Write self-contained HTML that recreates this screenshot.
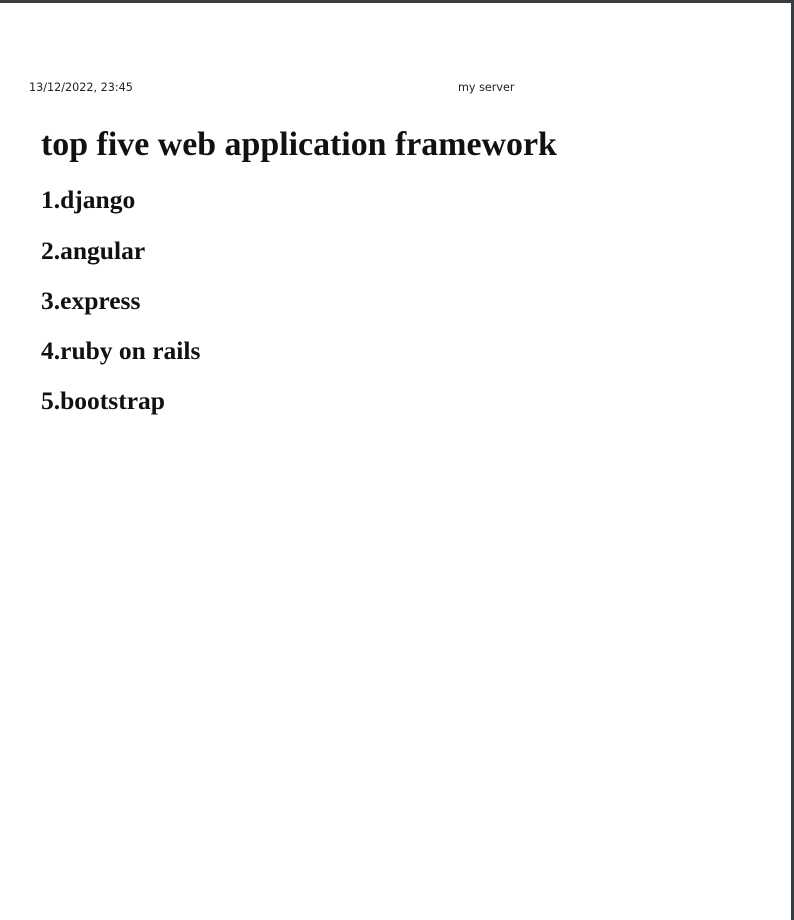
<!DOCTYPE html>
<html><head><meta charset="utf-8"><style>
html,body{margin:0;padding:0;background:#fff;}
body{width:794px;height:920px;position:relative;overflow:hidden;}
#topbar{position:absolute;left:0;top:0;width:794px;height:3px;background:#3a3d40;}
#rightbar{position:absolute;right:0;top:0;width:3px;height:920px;background:#3a3d40;}
.hdr{position:absolute;top:81px;font:11.2px "DejaVu Sans","Liberation Sans",sans-serif;color:#222;}
h1{position:absolute;left:41px;top:126px;margin:0;font:bold 33.9px "Liberation Serif",serif;color:#111;white-space:nowrap;}
.item{position:absolute;left:41px;margin:0;font:bold 25.5px "Liberation Serif",serif;color:#111;white-space:nowrap;}
</style></head><body>
<div id="topbar"></div>
<div id="rightbar"></div>
<div class="hdr" style="left:29px">13/12/2022, 23:45</div>
<div class="hdr" style="left:458px">my server</div>
<h1>top five web application framework</h1>
<div class="item" style="top:185px">1.django</div>
<div class="item" style="top:236px">2.angular</div>
<div class="item" style="top:286px">3.express</div>
<div class="item" style="top:336px">4.ruby on rails</div>
<div class="item" style="top:386px">5.bootstrap</div>
</body></html>
